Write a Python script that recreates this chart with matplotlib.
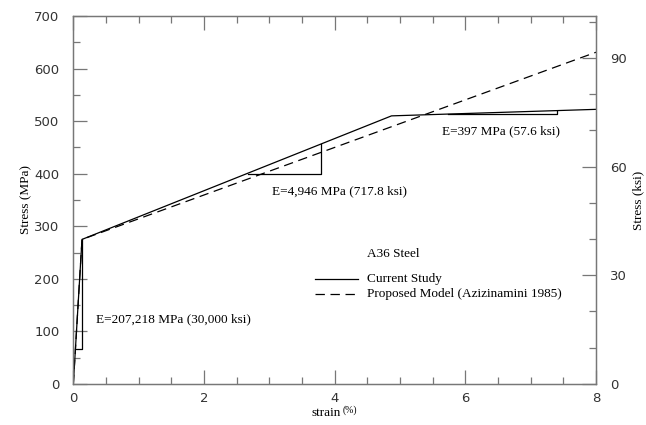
import matplotlib
matplotlib.use("Agg")
import matplotlib.pyplot as plt
from matplotlib.ticker import MultipleLocator

# ---- data ----
strain_cs = [0.0, 0.133, 4.87, 8.0]
stress_cs = [0.0, 275.0, 510.0, 522.4]
strain_pm = [0.0, 0.133, 8.0]
stress_pm = [0.0, 275.0, 631.0]

tri1_x = [0.032, 0.133, 0.133]
tri1_y = [66.0, 66.0, 275.0]
tri2_x = [2.676, 3.787, 3.787]
tri2_y = [400.0, 400.0, 456.0]
tri3_x = [5.73, 7.40, 7.40]
tri3_y = [513.4, 513.4, 520.0]

labels_E = ["E=207,218 MPa (30,000 ksi)", "E=4,946 MPa (717.8 ksi)", "E=397 MPa (57.6 ksi)"]
series_names = ["Current Study", "Proposed Model (Azizinamini 1985)"]
KSI = 6.89476

serif = ["Liberation Serif", "DejaVu Serif"]
sans = ["DejaVu Sans"]
spine_c = "#777777"
tick_txt = "#333333"

fig = plt.figure(figsize=(6.46, 4.25), dpi=100)
ax = fig.add_axes([0.1135, 0.0965, 0.8091, 0.8659])

lw = 0.9
ax.plot(strain_cs, stress_cs, color="black", lw=lw)
ax.plot(strain_pm, stress_pm, color="black", lw=lw, linestyle=(0, (7.5, 4.5)))
for tx, ty in [(tri1_x, tri1_y), (tri2_x, tri2_y), (tri3_x, tri3_y)]:
    ax.plot(tx, ty, color="black", lw=lw)

ax.set_xlim(0, 8)
ax.set_ylim(0, 700)
ax.xaxis.set_major_locator(MultipleLocator(2))
ax.xaxis.set_minor_locator(MultipleLocator(0.5))
ax.yaxis.set_major_locator(MultipleLocator(100))
ax.yaxis.set_minor_locator(MultipleLocator(50))
ax.tick_params(which="both", direction="in", color=spine_c, width=0.9, top=True, right=False,
               labelsize=9.5, labelcolor=tick_txt)
ax.tick_params(which="major", length=10)
ax.tick_params(which="minor", length=5)
ax.tick_params(axis="y", pad=10)
ax.tick_params(axis="x", pad=6)
for t in ax.get_xticklabels() + ax.get_yticklabels():
    t.set_family(sans)

ax2 = ax.twinx()
ax2.set_ylim(0, 700 / KSI)
ax2.yaxis.set_major_locator(MultipleLocator(30))
ax2.yaxis.set_minor_locator(MultipleLocator(10))
ax2.tick_params(which="both", direction="in", color=spine_c, width=0.9, labelsize=9.5,
                labelcolor=tick_txt, pad=10)
ax2.tick_params(which="major", length=10)
ax2.tick_params(which="minor", length=5)
for t in ax2.get_yticklabels():
    t.set_family(sans)

for a in (ax, ax2):
    for s in a.spines.values():
        s.set_color(spine_c)
        s.set_linewidth(0.9)

fig.text(26 / 646, 1 - 200 / 425, "Stress (MPa)", family=serif, fontsize=9.5,
         rotation=90, va="center", ha="center")
fig.text(638 / 646, 1 - 200 / 425, "Stress (ksi)", family=serif, fontsize=9.5,
         rotation=90, va="center", ha="center")

# x label with raised "(%)"
fig.text(311 / 646, 1 - 413 / 425, "strain", family=serif, fontsize=9.5, va="center", ha="left")
fig.text(343 / 646, 1 - 410 / 425, "(%)", family=serif, fontsize=7, va="center", ha="left")

ax.text(0.35, 124, labels_E[0], family=serif, fontsize=9.5, va="center", ha="left")
ax.text(3.04, 367, labels_E[1], family=serif, fontsize=9.5, va="center", ha="left")
ax.text(5.64, 481, labels_E[2], family=serif, fontsize=9.5, va="center", ha="left")
ax.text(4.49, 247, "A36 Steel", family=serif, fontsize=9.5, va="center", ha="left")

# legend
ax.plot([3.70, 4.36], [200, 200], color="black", lw=lw)
ax.plot([3.70, 4.36], [171, 171], color="black", lw=lw, linestyle=(0, (7.5, 4.5)))
ax.text(4.49, 200, series_names[0], family=serif, fontsize=9.5, va="center", ha="left")
ax.text(4.49, 171, series_names[1], family=serif, fontsize=9.5, va="center", ha="left")

fig.savefig("out.png", dpi=100)
